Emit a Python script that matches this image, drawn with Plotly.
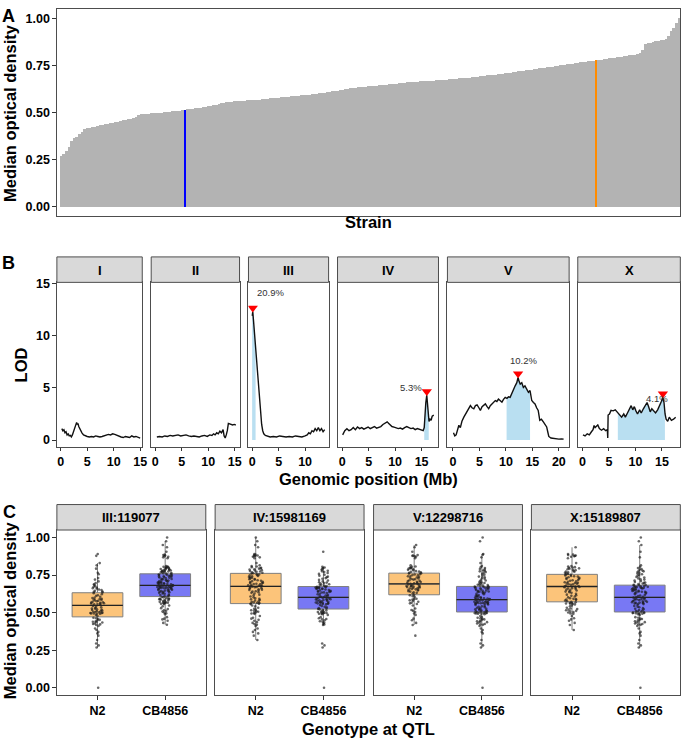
import numpy as np
import plotly.graph_objects as go

# ---------------- DATA ----------------
# Panel A: median optical density per strain, sorted (rank order = x order)
strain_od = [0.000,
    0.268, 0.282, 0.295, 0.318, 0.347, 0.362, 0.372, 0.385, 0.395, 0.412,
    0.418, 0.420, 0.422, 0.425, 0.428, 0.432, 0.435, 0.437, 0.440, 0.443,
    0.446, 0.449, 0.452, 0.455, 0.458, 0.460, 0.463, 0.466, 0.470, 0.478,
    0.485, 0.490, 0.492, 0.493, 0.494, 0.495, 0.496, 0.497, 0.498, 0.500,
    0.501, 0.503, 0.504, 0.506, 0.507, 0.509, 0.510, 0.512, 0.514, 0.516,
    0.518, 0.520, 0.522, 0.524, 0.526, 0.528, 0.530, 0.533, 0.536, 0.539,
    0.542, 0.545, 0.548, 0.551, 0.555, 0.557, 0.558, 0.559, 0.560, 0.561,
    0.562, 0.563, 0.564, 0.565, 0.566, 0.567, 0.568, 0.569, 0.570, 0.572,
    0.573, 0.575, 0.576, 0.578, 0.579, 0.581, 0.582, 0.584, 0.585, 0.587,
    0.588, 0.589, 0.590, 0.591, 0.592, 0.593, 0.594, 0.596, 0.598, 0.600,
    0.602, 0.604, 0.606, 0.608, 0.610, 0.612, 0.614, 0.616, 0.618, 0.620,
    0.623, 0.626, 0.628, 0.630, 0.632, 0.634, 0.635, 0.636, 0.638, 0.639,
    0.640, 0.641, 0.642, 0.644, 0.645, 0.647, 0.648, 0.650, 0.651, 0.653,
    0.654, 0.655, 0.657, 0.658, 0.660, 0.661, 0.662, 0.663, 0.664, 0.665,
    0.666, 0.667, 0.668, 0.669, 0.670, 0.671, 0.672, 0.673, 0.674, 0.675,
    0.676, 0.677, 0.678, 0.680, 0.681, 0.682, 0.684, 0.685, 0.686, 0.688,
    0.689, 0.691, 0.692, 0.694, 0.696, 0.697, 0.698, 0.699, 0.700, 0.702,
    0.704, 0.706, 0.708, 0.710, 0.712, 0.714, 0.716, 0.718, 0.720, 0.722,
    0.724, 0.726, 0.728, 0.730, 0.732, 0.734, 0.736, 0.738, 0.740, 0.742,
    0.744, 0.746, 0.748, 0.750, 0.752, 0.754, 0.756, 0.758, 0.760, 0.762,
    0.764, 0.766, 0.768, 0.770, 0.772, 0.774, 0.775, 0.777, 0.779, 0.781,
    0.783, 0.785, 0.787, 0.789, 0.791, 0.793, 0.795, 0.797, 0.799, 0.801,
    0.803, 0.805, 0.807, 0.810, 0.815, 0.830, 0.862, 0.868, 0.872, 0.875,
    0.878, 0.880, 0.883, 0.886, 0.890, 0.905, 0.935, 0.950, 0.975, 1.000]
blue_strain_rank = 49
orange_strain_rank = 208

# Panel C: genotype (N = N2, C = CB4856) of each strain (same order as strain_od) at each QTL
geno_III = ("NNNNNNNNNN" "NNCNNNCNNN" "NCNNCNCNNC" "NNCNNNNCNN" "NCNNNCNNCN"
            "CNNNCNNCNN" "NCNCNNCNCN" "NCNCNCNCNC" "CNCNCNCNCN" "CNCCNCNCCN"
            "NCCNCCNCNC" "CNCCNCCNCN" "CCNCCNCCNC" "CNCCCNCCNC" "CCNCCCCNCC"
            "CCCNCCCCNC" "CNCCCCNCCC" "CCCNCCCCCN" "CCCCNCCCCC" "CCCCCCCNCC"
            "CCNCCCCCCC" "CCCCCCNCCC" "CCCCCNNCCC" "CNCCCNCCCC" "C")
geno_IV = ("CCCCNNNNNN" "NCNCNCNCNC" "CNCNCCNCNC" "NCCNCNCCNC" "CNCCNCNCNC"
           "NCNCCNCCNC" "CNCNCCNCCN" "NCCNCNCCNC" "CNCNCCNCNC" "CCNCCNCCNC"
           "CNCCNCCCNC" "NCCNCNCCNC" "CNCNCCNCCN" "NCNCCNCCNC" "CNCCNCNCNC"
           "NNCNCNNCNC" "NCNNCNCNNC" "CNNCNNCNCN" "NNCNCNNCNC" "NNCNNCNNCN"
           "NCNNCNNCNC" "NNCNNCNNCN" "CNCNNNNNNN" "NNNNNNCNNN" "N")
geno_V = ("CCCCCNCCCC" "CNCCCCNCCC" "CCNCCCNCCC" "CNCCCNCCCC" "CCCNCCCCNC"
          "CNCCCCNCCC" "CCCNCCCNCC" "CNCCCNCCCC" "CNCCNCCNCC" "NCCNCCNCCC"
          "CCNCCNCCNC" "NCCNCNCCNC" "CNCNCCNCNC" "NCNCNCNCNC" "CNCNCNCNCN"
          "NCNNCCNCNC" "NCNNCNCNNC" "CNNCNNCNCN" "NNCNCNNCNC" "NNCNNCNNCN"
          "NCNNCNNCNC" "CNNCNCNNCN" "NCNNCNCNCN" "NNNNCCNNNC" "C")
geno_X = ("CCCCCCCCNC" "CNCCCCNCCC" "CNCCNCCNCC" "NCCNCCNCCC" "CNCNCCNCNC"
          "NCNCNCNCNC" "CNCNCNCNCN" "NCCNCNCCNC" "CNCNCCNCCN" "NCCNCNCCNC"
          "CNCCNCNCNC" "NCNCCNCCNC" "CNCNCCNCCN" "NCCNCNCCNC" "CNCCNCNCCN"
          "NCNCCNCCNC" "NNCNCNNCNC" "NCNNCNCNNC" "CNNCNNCNCN" "NNCNCNNCNC"
          "NCNNCNNCNC" "CNNCNCNNCN" "NNCNNCNNCN" "NNNNNNCNCC" "C")
qtl_labels = ["III:119077", "IV:15981169", "V:12298716", "X:15189807"]
genotype_names = ["N2", "CB4856"]

# Panel B: LOD scan per chromosome (position in Mb, LOD)
chrom_names = ["I", "II", "III", "IV", "V", "X"]
chrI_pos = [0.2, 0.4, 0.6, 0.8, 1.0, 1.2, 1.4, 1.6, 1.8, 2.0, 2.2, 2.4, 2.6, 2.8, 3.0, 3.1, 3.25,
            3.4, 3.6, 3.8, 4.0, 4.3, 4.6, 5.0, 5.4, 5.8, 6.2, 6.6, 7.0, 7.4, 7.8, 8.2, 8.6, 9.0,
            9.4, 9.8, 10.2, 10.6, 11.0, 11.4, 11.8, 12.2, 12.6, 13.0, 13.4, 13.8, 14.2, 14.6, 15.0]
chrI_lod = [1.1, 0.9, 1.0, 0.7, 0.8, 0.5, 0.6, 0.4, 0.45, 0.3, 0.5, 0.8, 1.1, 1.4, 1.7, 1.5, 1.6,
            1.3, 1.1, 0.8, 0.7, 0.5, 0.4, 0.35, 0.3, 0.35, 0.3, 0.4, 0.35, 0.3, 0.35, 0.4, 0.45, 0.55,
            0.5, 0.6, 0.55, 0.45, 0.35, 0.3, 0.25, 0.35, 0.3, 0.25, 0.4, 0.3, 0.35, 0.25, 0.2]
chrII_pos = [0.3, 0.8, 1.3, 1.8, 2.3, 2.8, 3.3, 3.8, 4.3, 4.8, 5.3, 5.8, 6.3, 6.8, 7.3, 7.8, 8.3,
             8.8, 9.3, 9.8, 10.3, 10.7, 11.0, 11.3, 11.6, 11.9, 12.2, 12.5, 12.8, 13.0, 13.2, 13.4,
             13.6, 13.8, 14.0, 14.3, 14.6, 14.9, 15.2]
chrII_lod = [0.3, 0.35, 0.3, 0.4, 0.35, 0.45, 0.4, 0.45, 0.5, 0.4, 0.45, 0.5, 0.4, 0.35, 0.4, 0.35,
             0.3, 0.4, 0.45, 0.35, 0.5, 0.45, 0.6, 0.5, 0.7, 0.6, 0.85, 0.7, 1.0, 0.4, 0.2, 0.5,
             0.9, 1.6, 1.55, 1.5, 1.45, 1.5, 1.45]
chrIII_pos = [0.02, 0.12, 0.25, 0.4, 0.55, 0.7, 0.85, 1.0, 1.15, 1.3, 1.45, 1.6, 1.8, 2.0, 2.2, 2.5,
              2.9, 3.4, 4.0, 4.6, 5.2, 5.8, 6.4, 7.0, 7.6, 8.2, 8.8, 9.4, 10.0, 10.4, 10.7, 11.0,
              11.3, 11.6, 11.9, 12.2, 12.5, 12.8, 13.1, 13.4, 13.7]
chrIII_lod = [11.9, 12.3, 11.5, 10.5, 9.9, 8.5, 7.3, 6.4, 5.6, 4.9, 3.6, 2.3, 1.5, 0.9, 0.6, 0.45,
              0.35, 0.3, 0.35, 0.3, 0.4, 0.35, 0.3, 0.35, 0.3, 0.4, 0.35, 0.3, 0.4, 0.5, 0.7, 0.6,
              0.9, 0.8, 1.1, 0.9, 1.2, 0.9, 1.1, 0.8, 1.0]
chrIV_pos = [0.1, 0.5, 0.9, 1.3, 1.7, 2.1, 2.5, 2.9, 3.3, 3.7, 4.1, 4.5, 4.9, 5.3, 5.7, 6.1, 6.5,
             6.9, 7.3, 7.7, 8.1, 8.5, 8.8, 9.1, 9.4, 9.8, 10.2, 10.6, 11.0, 11.4, 11.8, 12.2, 12.6,
             13.0, 13.4, 13.8, 14.2, 14.6, 15.0, 15.3, 15.5, 15.65, 15.8, 15.98, 16.1, 16.25, 16.4,
             16.6, 16.8, 17.0, 17.3]
chrIV_lod = [0.5, 0.9, 1.1, 0.9, 1.0, 1.2, 1.0, 1.25, 1.1, 1.2, 1.05, 1.15, 1.25, 1.1, 1.2, 1.3,
             1.15, 1.2, 1.3, 1.5, 1.6, 1.75, 1.6, 1.4, 1.3, 1.25, 1.2, 1.1, 1.15, 1.05, 1.2, 1.3,
             1.2, 1.1, 1.15, 1.0, 1.1, 1.05, 1.0, 0.9, 1.2, 3.0, 3.6, 4.3, 3.7, 3.0, 1.8, 2.0, 1.9,
             2.3, 2.4]
chrV_pos = [0.1, 0.35, 0.6, 0.85, 1.12, 1.4, 1.7, 2.06, 2.4, 2.68, 3.0, 3.3, 3.6, 3.94, 4.25, 4.56,
            4.9, 5.18, 5.5, 5.8, 6.12, 6.45, 6.75, 7.05, 7.37, 7.7, 8.0, 8.3, 8.6, 8.9, 9.25, 9.55,
            9.87, 10.2, 10.5, 10.8, 11.1, 11.4, 11.75, 12.06, 12.3, 12.5, 12.7, 13.0, 13.3, 13.6,
            13.9, 14.26, 14.56, 14.88, 15.2, 15.5, 15.8, 16.1, 16.4, 16.7, 17.07, 17.4, 17.7, 17.9,
            18.1, 18.5, 19.0, 19.5, 20.0, 20.5, 20.9]
chrV_lod = [0.7, 0.4, 0.5, 0.9, 1.42, 1.2, 1.8, 2.2, 2.5, 2.68, 2.9, 3.3, 3.1, 3.0, 3.3, 3.37,
            3.1, 2.84, 3.2, 3.3, 3.47, 3.2, 3.0, 3.3, 3.47, 3.6, 3.79, 3.7, 3.94, 3.8, 3.63, 3.9,
            4.1, 4.0, 4.15, 4.1, 4.5, 4.9, 5.2, 5.5, 6.0, 5.6, 5.37, 5.5, 5.05, 5.2, 4.9, 4.58,
            4.74, 3.79, 3.6, 3.47, 3.1, 2.84, 1.9, 2.0, 1.74, 1.5, 1.26, 0.8, 0.35, 0.2, 0.15, 0.15,
            0.1, 0.12, 0.1]
chrX_pos = [0.1, 0.5, 0.9, 1.3, 1.7, 2.0, 2.2, 2.4, 2.6, 2.9, 3.2, 3.6, 4.0, 4.4, 4.7, 4.78, 4.85,
            5.1, 5.4, 5.8, 6.2, 6.6, 7.0, 7.4, 7.8, 8.1, 8.5, 8.9, 9.2, 9.5, 9.8, 10.1, 10.4, 10.8,
            11.1, 11.5, 11.8, 12.2, 12.5, 12.8, 13.1, 13.4, 13.8, 14.2, 14.6, 14.9, 15.19, 15.4,
            15.6, 15.8, 16.1, 16.4, 16.8, 17.2, 17.6]
chrX_lod = [0.5, 0.4, 0.6, 0.5, 0.8, 1.0, 1.4, 1.2, 1.3, 1.45, 1.1, 0.95, 1.1, 0.9, 1.0, 0.2, 2.4,
            2.5, 2.85, 2.8, 2.9, 2.7, 2.4, 2.2, 2.5, 2.2, 2.6, 3.1, 3.3, 2.9, 3.2, 2.8, 2.5, 2.9,
            2.6, 3.0, 3.3, 3.6, 3.2, 2.7, 3.0, 2.8, 2.6, 2.9, 3.3, 3.7, 4.1, 3.6, 2.5, 2.0, 1.8,
            2.2, 1.9, 2.0, 2.2]

# QTL peaks
peak_chrom = ["III", "IV", "V", "X"]
peak_pos = [0.119, 15.98, 12.30, 15.19]
peak_lod = [12.3, 4.3, 6.0, 4.1]
var_exp = ["20.9%", "5.3%", "10.2%", "4.1%"]
ci_left = [0.0, 15.50, 10.13, 6.68]
ci_right = [0.65, 16.35, 14.56, 15.57]

od_ticks = [0, 0.25, 0.5, 0.75, 1.0]
od_ticklabels = ["0.00", "0.25", "0.50", "0.75", "1.00"]
lod_ticks = [0, 5, 10, 15]

# ---------------- STYLE / LAYOUT ----------------
W, H = 688, 743
FONT = "Liberation Sans, Arial, Helvetica, sans-serif"
BORDER = "#4d4d4d"
STRIP = "#d9d9d9"
N2_FILL = "#fcc47a"
CB_FILL = "#7878f4"

def dx(a, b):
    return [a / W, b / W]

def dy(top, bottom):
    return [1 - bottom / H, 1 - top / H]

tickfont = dict(family=FONT, size=12.5, color="black", weight="bold")

def axis(**kw):
    d = dict(showgrid=False, zeroline=False, showline=True, mirror=True, linecolor=BORDER,
             linewidth=1, ticks="outside", ticklen=3.5, tickwidth=1, tickcolor="#333333",
             tickfont=tickfont)
    d.update(kw)
    return d

fig = go.Figure()
layout = dict(width=W, height=H, margin=dict(l=0, r=0, t=0, b=0), paper_bgcolor="white",
              plot_bgcolor="white", showlegend=False, font=dict(family=FONT, color="black"))
annotations = []
shapes = []

def ann(text, x, y, size, bold=True, angle=0, color="black"):
    annotations.append(dict(text=text, x=x / W, y=1 - y / H, xref="paper", yref="paper",
                            showarrow=False, xanchor="center", yanchor="middle", textangle=angle,
                            font=dict(family=FONT, size=size, color=color,
                                      weight="bold" if bold else "normal")))

def strip(x0, x1, y0, y1, label):
    shapes.append(dict(type="rect", xref="paper", yref="paper", x0=x0 / W, x1=x1 / W,
                       y0=1 - y1 / H, y1=1 - y0 / H, fillcolor=STRIP,
                       line=dict(color=BORDER, width=1)))
    ann(label, (x0 + x1) / 2, (y0 + y1) / 2 + 0.5, 13)

# ---- Panel A ----
bar_colors = ["#b3b3b3"] * len(strain_od)
bar_colors[blue_strain_rank] = "#0000ff"
bar_colors[orange_strain_rank] = "#ff8c00"
fig.add_trace(go.Bar(x=list(range(len(strain_od))), y=strain_od, width=1.0,
                     marker=dict(color=bar_colors, line=dict(width=0)),
                     xaxis="x", yaxis="y"))
layout["xaxis"] = axis(domain=dx(57.3, 685.3), range=[-0.6, len(strain_od) - 0.4],
                       showticklabels=False, ticks="", anchor="y")
layout["yaxis"] = axis(domain=dy(3.3, 211.7), range=[-0.047, 1.05], tickvals=od_ticks,
                       ticktext=od_ticklabels, anchor="x")
layout["bargap"] = 0

# ---- Panel B ----
chrom_data = {"I": (chrI_pos, chrI_lod), "II": (chrII_pos, chrII_lod),
              "III": (chrIII_pos, chrIII_lod), "IV": (chrIV_pos, chrIV_lod),
              "V": (chrV_pos, chrV_lod), "X": (chrX_pos, chrX_lod)}
b_dom = [(57.3, 143.3), (152.3, 241.3), (250.3, 331.0), (340.0, 441.7), (450.7, 573.3), (582.0, 685.3)]
b_rng = [(-0.73, 15.39), (-0.77, 15.91), (-0.69, 14.44), (-0.87, 18.19), (-1.04, 21.94), (-0.88, 18.48)]
label_xy = {"III": (3.5, 14.15), "IV": (13.0, 5.06), "V": (13.3, 7.65), "X": (14.1, 3.95)}
B_TOP, B_BOT, B_STRIP = 279.0, 445.0, 253.3
for k, ch in enumerate(chrom_names):
    ai = k + 2
    xa, ya = f"x{ai}", f"y{ai}"
    pos, lod = chrom_data[ch]
    if ch in peak_chrom:
        q = peak_chrom.index(ch)
        cl, cr = ci_left[q], ci_right[q]
        inside = [p for p in pos if cl < p < cr]
        fx = [cl] + inside + [cr]
        fy = list(np.interp(fx, pos, lod))
        fig.add_trace(go.Scatter(x=fx, y=fy, mode="lines", fill="tozeroy",
                                 fillcolor="#b9dff1", line=dict(width=0),
                                 xaxis=xa, yaxis=ya))
    fig.add_trace(go.Scatter(x=pos, y=lod, mode="lines", line=dict(color="#111111", width=1.4),
                             xaxis=xa, yaxis=ya))
    if ch in peak_chrom:
        q = peak_chrom.index(ch)
        fig.add_trace(go.Scatter(x=[peak_pos[q]], y=[peak_lod[q] + 0.35], mode="markers",
                                 marker=dict(symbol="triangle-down", size=9, color="red"),
                                 xaxis=xa, yaxis=ya))
        lx, ly = label_xy[ch]
        annotations.append(dict(text=var_exp[q], x=lx, y=ly, xref=xa, yref=ya, showarrow=False,
                                xanchor="center", yanchor="middle",
                                font=dict(family=FONT, size=9.5, color="#333333")))
    layout[f"xaxis{ai}"] = axis(domain=dx(*b_dom[k]), range=list(b_rng[k]), tick0=0, dtick=5,
                                anchor=ya)
    yk = dict(domain=dy(B_TOP, B_BOT), range=[-0.64, 15.1], anchor=xa)
    if k == 0:
        yk.update(tickvals=lod_ticks)
    else:
        yk.update(showticklabels=False, ticks="")
    layout[f"yaxis{ai}"] = axis(**yk)
    strip(b_dom[k][0], b_dom[k][1], B_STRIP, B_TOP, ch)

# ---- Panel C ----
genos = [geno_III, geno_IV, geno_V, geno_X]
c_dom = [(57.3, 207.3), (216.7, 366.7), (376.3, 526.3), (535.3, 685.3)]
C_TOP, C_BOT, C_STRIP = 529.0, 695.7, 503.3
for k, g in enumerate(genos):
    assert len(g) == len(strain_od), (k, len(g))
    ai = k + 8
    xa, ya = f"x{ai}", f"y{ai}"
    for gi, (code, fill) in enumerate([("N", N2_FILL), ("C", CB_FILL)]):
        vals = [v for v, c in zip(strain_od, g) if c == code]
        xpos = gi + 1
        fig.add_trace(go.Box(x=[xpos] * len(vals), y=vals, width=0.75, fillcolor=fill,
                             line=dict(color="#7f7f7f", width=1), whiskerwidth=0,
                             boxpoints="all", jitter=0.33, pointpos=0,
                             marker=dict(size=2.6, color="rgba(25,25,25,0.65)"),
                             xaxis=xa, yaxis=ya))
        med = float(np.median(vals))
        fig.add_trace(go.Scatter(x=[xpos - 0.375, xpos + 0.375], y=[med, med], mode="lines",
                                 line=dict(color="#222222", width=1.3), xaxis=xa, yaxis=ya))
    layout[f"xaxis{ai}"] = axis(domain=dx(*c_dom[k]), range=[0.4, 2.6], tickvals=[1, 2],
                                ticktext=genotype_names, anchor=ya)
    yk = dict(domain=dy(C_TOP, C_BOT), range=[-0.049, 1.05], anchor=xa)
    if k == 0:
        yk.update(tickvals=od_ticks, ticktext=od_ticklabels)
    else:
        yk.update(showticklabels=False, ticks="")
    layout[f"yaxis{ai}"] = axis(**yk)
    strip(c_dom[k][0], c_dom[k][1], C_STRIP, C_TOP, qtl_labels[k])

# ---- titles and panel letters ----
ann("Median optical density", 10, 108, 16.5, angle=-90)
ann("Strain", 371, 218, 16.5)
ann("LOD", 21, 362, 16.5, angle=-90)
ann("Genomic position (Mb)", 371, 478, 16.5)
ann("Median optical density", 10, 610, 16.5, angle=-90)
ann("Genotype at QTL", 371, 730, 16.5)
ann("A", 9, 10, 18)
ann("B", 9, 259, 18)
ann("C", 10, 511, 18)

layout["annotations"] = annotations
layout["shapes"] = shapes
fig.update_layout(**layout)
fig.write_html("out.html",
               config={"displayModeBar": False},
               post_script="document.body.style.margin='0px';document.body.style.overflow='hidden';")
